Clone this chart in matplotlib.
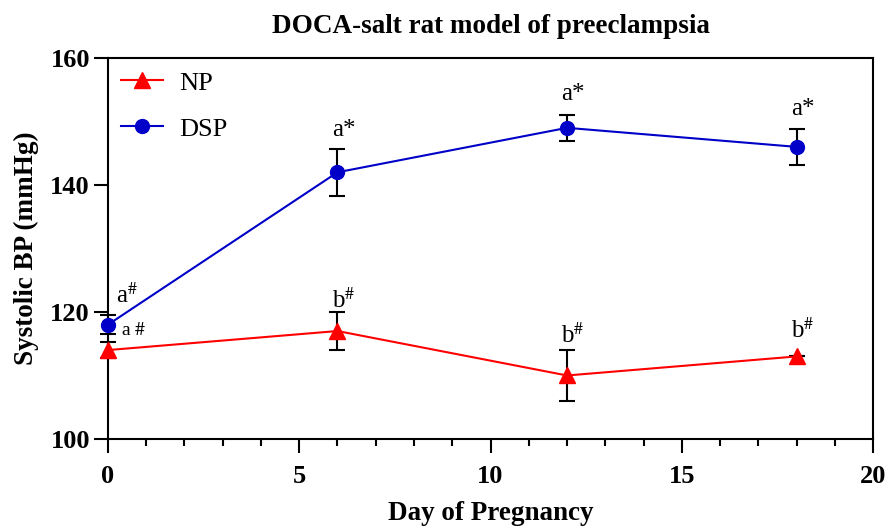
import matplotlib
matplotlib.use("Agg")
import matplotlib.pyplot as plt
from matplotlib.ticker import MultipleLocator
from matplotlib.lines import Line2D

plt.rcParams['font.family'] = ['Liberation Serif', 'DejaVu Serif']
plt.rcParams['mathtext.fontset'] = 'stix'

days = [0, 6, 12, 18]
np_mean = [114, 117, 110, 113]
np_err = [1.3, 3.0, 4.0, 0.0]
dsp_mean = [118, 142, 149, 146]
dsp_err = [1.5, 3.7, 2.0, 2.8]

np_labels = [r"a $\#$", r"b$^{\#}$", r"b$^{\#}$", r"b$^{\#}$"]
dsp_labels = [r"a$^{\#}$", "a*", "a*", "a*"]
np_label_y = [116.4, 120.6, 115.1, 115.9]
dsp_label_y = [121.4, 147.7, 153.4, 151.0]

RED = '#FF0000'
BLUE = '#0000C8'

fig = plt.figure(figsize=(8.9, 5.31), dpi=100)
ax = fig.add_axes([0.1213, 0.1733, 0.8597, 0.7175])

for mean, err, col, mk, ms in [(np_mean, np_err, RED, '^', 12),
                               (dsp_mean, dsp_err, BLUE, 'o', 10)]:
    eb = ax.errorbar(days, mean, yerr=err, fmt='none', ecolor='black',
                     elinewidth=1.5, capsize=6, capthick=1.5, zorder=2)
    for art in eb.lines[1] + eb.lines[2]:
        art.set_clip_on(False)
    ax.plot(days, mean, color=col, lw=1.5, marker=mk, ms=ms, zorder=3, clip_on=False)

for i, (x, lab, yy) in enumerate(zip(days, dsp_labels, dsp_label_y)):
    dx = 0.2 if i == 0 else -0.15
    ax.text(x + dx, yy, lab, ha='left', va='baseline', fontsize=18, zorder=4)
for i, (x, lab, yy) in enumerate(zip(days, np_labels, np_label_y)):
    dx = 0.35 if i == 0 else -0.15
    fs = 14 if i == 0 else 18
    ax.text(x + dx, yy, lab, ha='left', va='baseline', fontsize=fs, zorder=4)

ax.set_xlim(0, 20)
ax.set_ylim(100, 160)
ax.xaxis.set_major_locator(MultipleLocator(5))
ax.xaxis.set_minor_locator(MultipleLocator(1))
ax.yaxis.set_major_locator(MultipleLocator(20))
ax.tick_params(axis='both', which='major', length=10, width=1.5, labelsize=19)
ax.tick_params(axis='x', which='major', pad=9)
ax.tick_params(axis='y', which='major', pad=3)
ax.tick_params(axis='x', which='minor', length=5, width=1.5)
for lab in ax.get_xticklabels() + ax.get_yticklabels():
    lab.set_fontweight('bold')
for s in ax.spines.values():
    s.set_linewidth(1.5)

ax.set_xlabel('Day of Pregnancy', fontsize=19.5, fontweight='bold', labelpad=9)
ax.set_ylabel('Systolic BP (mmHg)', fontsize=19.5, fontweight='bold', labelpad=8)
ax.set_title('DOCA-salt rat model of preeclampsia', fontsize=19.5, fontweight='bold', pad=18)

handles = [Line2D([], [], color=RED, lw=1.5, marker='^', ms=12),
           Line2D([], [], color=BLUE, lw=1.5, marker='o', ms=10)]
ax.legend(handles, ['NP', 'DSP'], loc='upper left', frameon=False, fontsize=19,
          handlelength=1.6, handletextpad=0.6, borderaxespad=0.1,
          labelspacing=0.85, bbox_to_anchor=(0.0, 1.0))

fig.savefig('out.png', dpi=100)
